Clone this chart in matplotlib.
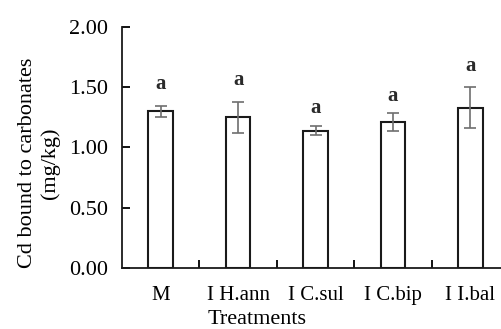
import matplotlib
matplotlib.use("Agg")
import matplotlib.pyplot as plt
import numpy as np

categories = ["M", "I H.ann", "I C.sul", "I C.bip", "I I.bal"]
means = [1.30, 1.25, 1.14, 1.21, 1.33]
errors = [0.045, 0.13, 0.035, 0.075, 0.17]
letters = ["a", "a", "a", "a", "a"]
letter_y = [1.53, 1.56, 1.33, 1.43, 1.68]
yticks = [0.0, 0.5, 1.0, 1.5, 2.0]
ytick_labels = ["0.00", "0.50", "1.00", "1.50", "2.00"]

plt.rcParams['font.family'] = ['Liberation Serif', 'DejaVu Serif']

W, H = 501, 329
fig = plt.figure(figsize=(W / 100, H / 100), dpi=100)
ax = fig.add_axes([122 / W, (H - 267.7) / H, (509 - 122) / W, (267.7 - 27) / H])

x = np.arange(len(categories))
ax.bar(x, means, width=0.32, color="white", edgecolor="#1a1a1a", linewidth=1.5, zorder=2)
ax.errorbar(x, means, yerr=errors, fmt="none", ecolor="#6e6e6e", elinewidth=1.2,
            capsize=4, capthick=1.2, zorder=3)
for xi, lt, ly in zip(x, letters, letter_y):
    ax.text(xi, ly, lt, ha="center", va="center", fontsize=15, fontweight="bold",
            color="#2a2a2a")

ax.set_xlim(-0.5, len(categories) - 0.5)
ax.set_ylim(0, 2.0)
ax.set_yticks(yticks)
ax.set_yticklabels(ytick_labels)
ax.set_xticks(x)
ax.set_xticklabels(categories)
ax.set_xticks(np.arange(0.5, len(categories) - 1, 1.0), minor=True)

for s in ["top", "right"]:
    ax.spines[s].set_visible(False)
for s in ["left", "bottom"]:
    ax.spines[s].set_linewidth(1.3)
    ax.spines[s].set_color("#1a1a1a")

ax.tick_params(axis="y", direction="in", length=6, width=1.3, pad=10, labelsize=16)
ax.tick_params(axis="x", which="major", length=0, pad=13, labelsize=15)
ax.tick_params(axis="x", which="minor", direction="in", length=5.5, width=1.3)

fig.text(39 / W, 1 - 163 / H, "Cd bound to carbonates\n(mg/kg)", rotation=90,
         ha="center", va="center", multialignment="center", fontsize=16, linespacing=1.25)
fig.text(257 / W, 1 - 319 / H, "Treatments", ha="center", va="center", fontsize=16)

fig.savefig("out.png", dpi=100)
